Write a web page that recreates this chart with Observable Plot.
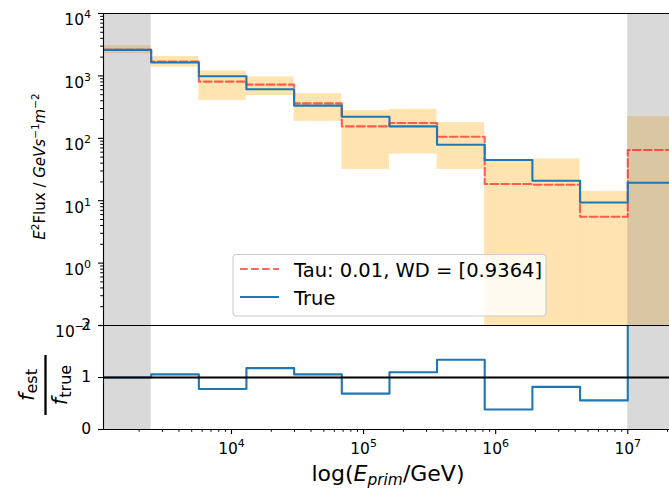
<!DOCTYPE html>
<html>
<head>
<meta charset="utf-8">
<script src="https://cdn.jsdelivr.net/npm/d3@7"></script>
<script src="https://cdn.jsdelivr.net/npm/@observablehq/plot@0.6"></script>
<style>
  html, body { margin: 0; padding: 0; background: #fff; overflow: hidden; }
  #chart { position: relative; width: 669px; height: 488px; font-family: "DejaVu Sans", sans-serif; }
  #chart svg { position: absolute; left: 0; overflow: visible; }
</style>
</head>
<body>
<div id="chart"></div>
<script>
// log10 of the energy bin edges (GeV)
const edgeLog = [3.031, 3.392, 3.753, 4.113, 4.474, 4.835, 5.196, 5.556, 5.917, 6.278, 6.639, 7.0, 7.361];

// E^2 flux per bin
const trueFlux = [2610, 1636, 986, 610, 334, 222, 155, 78.9, 44.9, 20.9, 9.36, 19.4];
const estFlux  = [2610, 1694, 811, 724, 363, 155, 176, 106, 18.5, 18.0, 5.52, 64.9];

// uncertainty band of the estimate per bin
const bandLow  = [2255, 1374, 402, 483, 187, 31.7, 56, 31.7, 0.001, 0.001, 0.001, 0.001];
const bandHigh = [3063, 2042, 1202, 964, 520, 277, 291, 178, 44, 47, 14.1, 222];

// f_est / f_true per bin
const ratio = [1.0, 1.06, 0.78, 1.18, 1.06, 0.69, 1.10, 1.34, 0.385, 0.82, 0.56, 3.3];

// excluded energy ranges (log10 GeV)
const excludedLog = [[3.031, 3.392], [7.0, 7.361]];

// axis ticks
const fluxTickExp = [-1, 0, 1, 2, 3, 4];
const energyTickExp = [4, 5, 6, 7];
const ratioTicks = [0, 1, 2];

const legendLabels = ["Tau: 0.01, WD = [0.9364]", "True"];

const xDomain = [10 ** 3.031, 10 ** 7.316];
const blue = "#1f77b4";

const steps = vals => vals.map((v, i) => ({x: 10 ** edgeLog[i], y: v}))
  .concat([{x: 10 ** edgeLog[vals.length], y: vals[vals.length - 1]}]);

const bins = trueFlux.map((_, i) => ({
  lo: 10 ** edgeLog[i], hi: 10 ** edgeLog[i + 1], low: bandLow[i], high: bandHigh[i]
}));
const shaded = excludedLog.map(([a, b]) => ({lo: 10 ** a, hi: 10 ** b}));

// minor tick positions for the log axes
const minorTicks = (e0, e1) => {
  const out = [];
  for (let e = e0; e <= e1; e++) for (let m = 2; m <= 9; m++) out.push(m * 10 ** e);
  return out;
};
const fluxMinor = minorTicks(-1, 3);
const energyMinor = minorTicks(3, 7).filter(v => v >= xDomain[0] && v <= xDomain[1]);

const pow10 = d => "10^" + Math.round(Math.log10(d));
const baseStyle = {fontFamily: "DejaVu Sans", fontSize: "15px", overflow: "visible", background: "none"};

const topPlot = Plot.plot({
  width: 669, height: 326,
  marginLeft: 103, marginRight: 0, marginTop: 13, marginBottom: 1,
  style: baseStyle,
  x: {type: "log", domain: xDomain, axis: null},
  y: {type: "log", domain: [0.1, 1e4]},
  marks: [
    Plot.rect(bins, {x1: "lo", x2: "hi", y1: "low", y2: "high", fill: "orange", fillOpacity: 0.3, clip: true}),
    Plot.rect(shaded, {x1: "lo", x2: "hi", fill: "gray", fillOpacity: 0.3, clip: true}),
    Plot.line(steps(estFlux), {x: "x", y: "y", curve: "step-after", stroke: "red", strokeOpacity: 0.6,
      strokeWidth: 2.1, strokeDasharray: "7.7,3.3", clip: true}),
    Plot.line(steps(trueFlux), {x: "x", y: "y", curve: "step-after", stroke: blue, strokeWidth: 2.1, clip: true}),
    Plot.axisY(fluxTickExp.map(e => 10 ** e), {tickSize: 5, tickPadding: 7.5, tickFormat: pow10, label: null, strokeWidth: 1.1}),
    Plot.axisY(fluxMinor, {tickSize: 2.8, tickFormat: () => "", label: null, strokeWidth: 1}),
    Plot.ruleX([xDomain[0]], {stroke: "black", strokeWidth: 1.1}),
    Plot.ruleY([1e4, 0.1], {stroke: "black", strokeWidth: 1.1})
  ]
});

const bottomPlot = Plot.plot({
  width: 669, height: 168,
  marginLeft: 103, marginRight: 0, marginTop: 5, marginBottom: 59,
  style: baseStyle,
  x: {type: "log", domain: xDomain},
  y: {domain: [0, 2]},
  marks: [
    Plot.rect(shaded, {x1: "lo", x2: "hi", fill: "gray", fillOpacity: 0.3, clip: true}),
    Plot.line(steps(ratio), {x: "x", y: "y", curve: "step-after", stroke: blue, strokeWidth: 2.1, clip: true}),
    Plot.ruleY([1], {stroke: "black", strokeWidth: 2}),
    Plot.axisX(energyTickExp.map(e => 10 ** e), {tickSize: 5, tickPadding: 8, tickFormat: pow10, label: null, strokeWidth: 1.1}),
    Plot.axisX(energyMinor, {tickSize: 2.8, tickFormat: () => "", label: null, strokeWidth: 1}),
    Plot.axisY(ratioTicks, {tickSize: 5, tickPadding: 7.5, tickFormat: d => String(d), label: null, strokeWidth: 1.1}),
    Plot.ruleX([xDomain[0]], {stroke: "black", strokeWidth: 1.1}),
    Plot.ruleY([0, 2], {stroke: "black", strokeWidth: 1.1})
  ]
});

const chart = document.getElementById("chart");
topPlot.style.top = "0px";
bottomPlot.style.top = "320px";
chart.appendChild(bottomPlot);
chart.appendChild(topPlot);

// tick labels: set size, and turn "10^k" into 10 with a raised exponent
function styleTicks(svg, ySide) {
  d3.select(svg).selectAll('g[aria-label$="tick label"]').attr("font-size", null);
  d3.select(svg).selectAll('g[aria-label$="tick label"] text').each(function () {
    const sel = d3.select(this).attr("font-size", 15.5).attr("fill", "black");
    const m = /^10\^(-?\d+)$/.exec(this.textContent);
    if (!m) return;
    sel.text(null);
    if (ySide) sel.attr("dy", "0.45em");
    sel.append("tspan").attr("font-size", 15.5).text("10");
    sel.append("tspan").attr("dy", -7).attr("font-size", 11).text(m[1].replace("-", "\u2212"));
  });
}
styleTicks(topPlot, true);
styleTicks(bottomPlot, false);

// y label of the flux panel
const ts = d3.select(topPlot);
const yl = ts.append("text")
  .attr("transform", "translate(44.5,166.5) rotate(-90)")
  .attr("text-anchor", "middle").attr("font-size", 15).attr("fill", "black");
yl.append("tspan").attr("font-style", "italic").text("E");
yl.append("tspan").attr("font-size", 10.5).attr("dy", -6).text("2");
yl.append("tspan").attr("dy", 6).text("Flux / ");
yl.append("tspan").attr("font-style", "italic").text("GeVs");
yl.append("tspan").attr("font-size", 10.5).attr("dy", -6).text("\u22121");
yl.append("tspan").attr("font-style", "italic").attr("dy", 6).text("m");
yl.append("tspan").attr("font-size", 10.5).attr("dy", -6).text("\u22122");

// legend
const lg = ts.append("g").attr("font-size", 19.5).attr("text-anchor", "start");
lg.append("rect").attr("x", 233).attr("y", 254.5).attr("width", 313).attr("height", 61.5)
  .attr("rx", 3.5).attr("fill", "white").attr("fill-opacity", 0.8)
  .attr("stroke", "#cccccc").attr("stroke-width", 1.1);
lg.append("line").attr("x1", 240).attr("x2", 279).attr("y1", 269).attr("y2", 269)
  .attr("stroke", "red").attr("stroke-opacity", 0.6).attr("stroke-width", 2.1).attr("stroke-dasharray", "7.7,3.3");
lg.append("line").attr("x1", 240).attr("x2", 279).attr("y1", 297).attr("y2", 297)
  .attr("stroke", blue).attr("stroke-width", 2.1);
lg.append("text").attr("x", 294).attr("y", 276.5).attr("fill", "black").text(legendLabels[0]);
lg.append("text").attr("x", 294).attr("y", 304.5).attr("fill", "black").text(legendLabels[1]);

// ratio panel label: f_est over f_true
const bs = d3.select(bottomPlot);
const fr = bs.append("g").attr("transform", "translate(45.5,65) rotate(-90)").attr("fill", "black");
const num = fr.append("text").attr("text-anchor", "middle").attr("y", -12);
num.append("tspan").attr("font-style", "italic").attr("font-size", 21).text("f");
num.append("tspan").attr("font-size", 16).attr("dy", 3).text("est");
fr.append("line").attr("x1", -30).attr("x2", 30).attr("y1", 0).attr("y2", 0)
  .attr("stroke", "black").attr("stroke-width", 2.3);
const den = fr.append("text").attr("text-anchor", "middle").attr("y", 21.5);
den.append("tspan").attr("font-style", "italic").attr("font-size", 21).text("f");
den.append("tspan").attr("font-size", 16).attr("dy", 4).text("true");

// x label
const xl = bs.append("text").attr("x", 388).attr("y", 161).attr("text-anchor", "middle")
  .attr("font-size", 22).attr("fill", "black");
xl.append("tspan").text("log(");
xl.append("tspan").attr("font-style", "italic").text("E");
xl.append("tspan").attr("font-style", "italic").attr("font-size", 15.4).attr("dy", 4).text("prim");
xl.append("tspan").attr("dy", -4).text("/GeV)");
</script>
</body>
</html>
